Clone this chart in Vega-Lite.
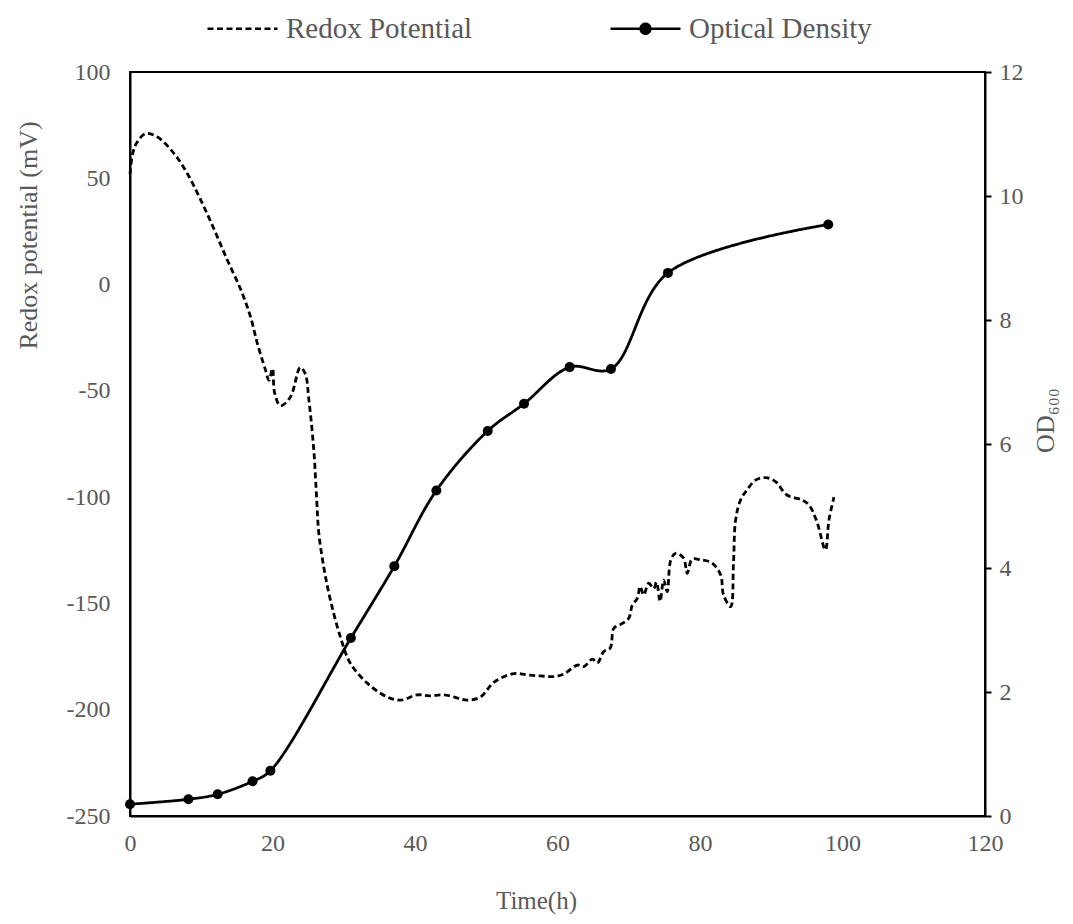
{
  "$schema": "https://vega.github.io/schema/vega-lite/v6.json",
  "width": 855,
  "height": 744,
  "autosize": {"type": "none"},
  "padding": {"left": 130, "top": 72, "right": 88, "bottom": 108},
  "background": "white",
  "config": {
    "font": "Liberation Serif",
    "view": {"stroke": "black", "strokeWidth": 2},
    "axis": {
      "grid": false,
      "domainColor": "black",
      "domainWidth": 2,
      "labelFont": "Liberation Serif",
      "labelFontSize": 24,
      "labelColor": "#595959",
      "titleFont": "Liberation Serif",
      "titleFontSize": 26,
      "titleFontWeight": "normal",
      "titleColor": "#595959",
      "labelOverlap": false,
      "labelFlush": false
    }
  },
  "datasets": {
    "redox": [
      {"t": 0, "mV": 52}, {"t": 0.4, "mV": 62}, {"t": 1.0, "mV": 67}, {"t": 2.2, "mV": 71},
      {"t": 3.8, "mV": 69.5}, {"t": 6.1, "mV": 62}, {"t": 8.0, "mV": 52.5}, {"t": 9.9, "mV": 40},
      {"t": 11.8, "mV": 26}, {"t": 13.6, "mV": 12}, {"t": 15.5, "mV": -2}, {"t": 16.9, "mV": -15},
      {"t": 17.9, "mV": -28}, {"t": 19.0, "mV": -40}, {"t": 19.5, "mV": -45}, {"t": 20.0, "mV": -39.5},
      {"t": 20.3, "mV": -51}, {"t": 21.1, "mV": -57}, {"t": 22.5, "mV": -53}, {"t": 23.9, "mV": -39},
      {"t": 24.6, "mV": -42}, {"t": 25.1, "mV": -54}, {"t": 25.8, "mV": -78}, {"t": 26.2, "mV": -101},
      {"t": 26.5, "mV": -117}, {"t": 27.2, "mV": -133}, {"t": 28.1, "mV": -148}, {"t": 29.5, "mV": -165.5},
      {"t": 30.9, "mV": -178}, {"t": 33.3, "mV": -187.5}, {"t": 36.1, "mV": -194}, {"t": 38.0, "mV": -195.5},
      {"t": 40.3, "mV": -193}, {"t": 42.0, "mV": -193.5}, {"t": 44.0, "mV": -193}, {"t": 46.0, "mV": -194.5},
      {"t": 47.3, "mV": -195.5}, {"t": 49.2, "mV": -194}, {"t": 51.1, "mV": -187}, {"t": 53.9, "mV": -183},
      {"t": 55.7, "mV": -183.6}, {"t": 57.6, "mV": -184.1}, {"t": 59.5, "mV": -184.4}, {"t": 60.9, "mV": -183.2},
      {"t": 62.8, "mV": -179}, {"t": 63.7, "mV": -179.7}, {"t": 64.9, "mV": -176.2}, {"t": 65.6, "mV": -178},
      {"t": 66.5, "mV": -172.6}, {"t": 67.4, "mV": -171}, {"t": 67.9, "mV": -161.7}, {"t": 68.8, "mV": -160},
      {"t": 70.0, "mV": -157}, {"t": 70.5, "mV": -150.7}, {"t": 71.2, "mV": -147.6}, {"t": 71.6, "mV": -142},
      {"t": 72.1, "mV": -146}, {"t": 72.8, "mV": -140.5}, {"t": 73.5, "mV": -143}, {"t": 73.9, "mV": -140},
      {"t": 74.4, "mV": -149}, {"t": 74.9, "mV": -139}, {"t": 75.4, "mV": -144.4}, {"t": 75.9, "mV": -129.5},
      {"t": 76.6, "mV": -126.4}, {"t": 77.7, "mV": -128.7}, {"t": 78.2, "mV": -135.8}, {"t": 78.9, "mV": -129.2},
      {"t": 80.1, "mV": -129.5}, {"t": 81.7, "mV": -131}, {"t": 82.9, "mV": -136.6}, {"t": 83.3, "mV": -146},
      {"t": 84.3, "mV": -151.5}, {"t": 84.7, "mV": -131}, {"t": 85.0, "mV": -110.7}, {"t": 85.7, "mV": -101.3},
      {"t": 86.6, "mV": -96.6}, {"t": 87.8, "mV": -92}, {"t": 89.2, "mV": -90.8}, {"t": 90.6, "mV": -92.7},
      {"t": 92.2, "mV": -99}, {"t": 94.3, "mV": -101.3}, {"t": 95.3, "mV": -103.7}, {"t": 96.4, "mV": -111.5},
      {"t": 97.6, "mV": -124.8}, {"t": 98.1, "mV": -110.7}, {"t": 98.8, "mV": -100}
    ],
    "od": [
      {"t": 0, "OD": 0.19}, {"t": 8.2, "OD": 0.27}, {"t": 12.3, "OD": 0.35}, {"t": 17.2, "OD": 0.56},
      {"t": 19.7, "OD": 0.73}, {"t": 31.0, "OD": 2.87}, {"t": 37.1, "OD": 4.03}, {"t": 43.0, "OD": 5.25},
      {"t": 50.2, "OD": 6.21}, {"t": 55.3, "OD": 6.65}, {"t": 61.7, "OD": 7.24}, {"t": 67.5, "OD": 7.21},
      {"t": 75.5, "OD": 8.76}, {"t": 98.0, "OD": 9.54}
    ]
  },
  "layer": [
    {
      "data": {"name": "redox"},
      "mark": {"type": "line", "interpolate": "catmull-rom", "color": "black", "strokeWidth": 2.8},
      "encoding": {
        "x": {
          "field": "t", "type": "quantitative",
          "scale": {"domain": [0, 120], "nice": false, "zero": false},
          "axis": {
            "values": [0, 20, 40, 60, 80, 100, 120],
            "ticks": false, "tickSize": 0, "labelPadding": 15,
            "title": "Time(h)", "titleX": 406, "titleY": 84, "titleFontSize": 25,
            "titleBaseline": "middle", "titleAlign": "center", "titleAnchor": null
          }
        },
        "y": {
          "field": "mV", "type": "quantitative",
          "scale": {"domain": [-250, 100], "nice": false, "zero": false},
          "axis": {
            "orient": "left",
            "values": [-250, -200, -150, -100, -50, 0, 50, 100],
            "labelExpr": "replace(datum.label, '\u2212', '-')",
            "ticks": false, "tickSize": 0, "labelPadding": 20,
            "title": "Redox potential (mV)", "titleAngle": 270,
            "titleX": -102, "titleY": 163, "titleBaseline": "middle", "titleAlign": "center"
          }
        },
        "strokeDash": {
          "datum": "Redox Potential",
          "scale": {"domain": ["Redox Potential", "Optical Density"], "range": [[6, 3.5], [1, 0]]},
          "legend": {
            "orient": "none",
            "legendX": 76,
            "legendY": -80,
            "direction": "horizontal",
            "title": null,
            "symbolType": "stroke",
            "symbolSize": 4900,
            "symbolStrokeWidth": 2.6,
            "symbolStrokeColor": "black",
            "labelFont": "Liberation Serif",
            "labelFontSize": 29,
            "labelLimit": 400,
            "labelColor": "#595959",
            "labelOffset": 7,
            "columnPadding": 132,
            "encode": {
              "symbols": {
                "update": {
                  "shape": {"signal": "datum.label === 'Optical Density' ? 'M-1,0H1M-0.14,0A0.14,0.14,0,1,1,0.14,0A0.14,0.14,0,1,1,-0.14,0Z' : 'stroke'"},
                  "fill": {"signal": "datum.label === 'Optical Density' ? 'black' : 'transparent'"},
                  "stroke": {"value": "black"},
                  "strokeWidth": {"value": 2.6},
                  "opacity": {"value": 1}
                }
              }
            }
          }
        }
      }
    },
    {
      "data": {"name": "od"},
      "encoding": {
        "x": {"field": "t", "type": "quantitative"},
        "y": {
          "field": "OD", "type": "quantitative",
          "scale": {"domain": [0, 12], "nice": false},
          "axis": {
            "orient": "right",
            "values": [0, 2, 4, 6, 8, 10, 12],
            "ticks": true, "tickSize": 6, "tickWidth": 2, "tickColor": "black",
            "labelPadding": 8,
            "title": "OD₆₀₀", "titleAngle": 270,
            "titleX": 60, "titleY": 348, "titleBaseline": "middle", "titleAlign": "center"
          }
        }
      },
      "layer": [
        {
          "mark": {"type": "line", "interpolate": "catmull-rom", "color": "black", "strokeWidth": 2.8},
          "encoding": {"strokeDash": {"datum": "Optical Density"}}
        },
        {
          "mark": {"type": "point", "filled": true, "shape": "circle", "size": 100, "color": "black", "opacity": 1}
        }
      ]
    }
  ],
  "resolve": {"scale": {"y": "independent"}}
}
